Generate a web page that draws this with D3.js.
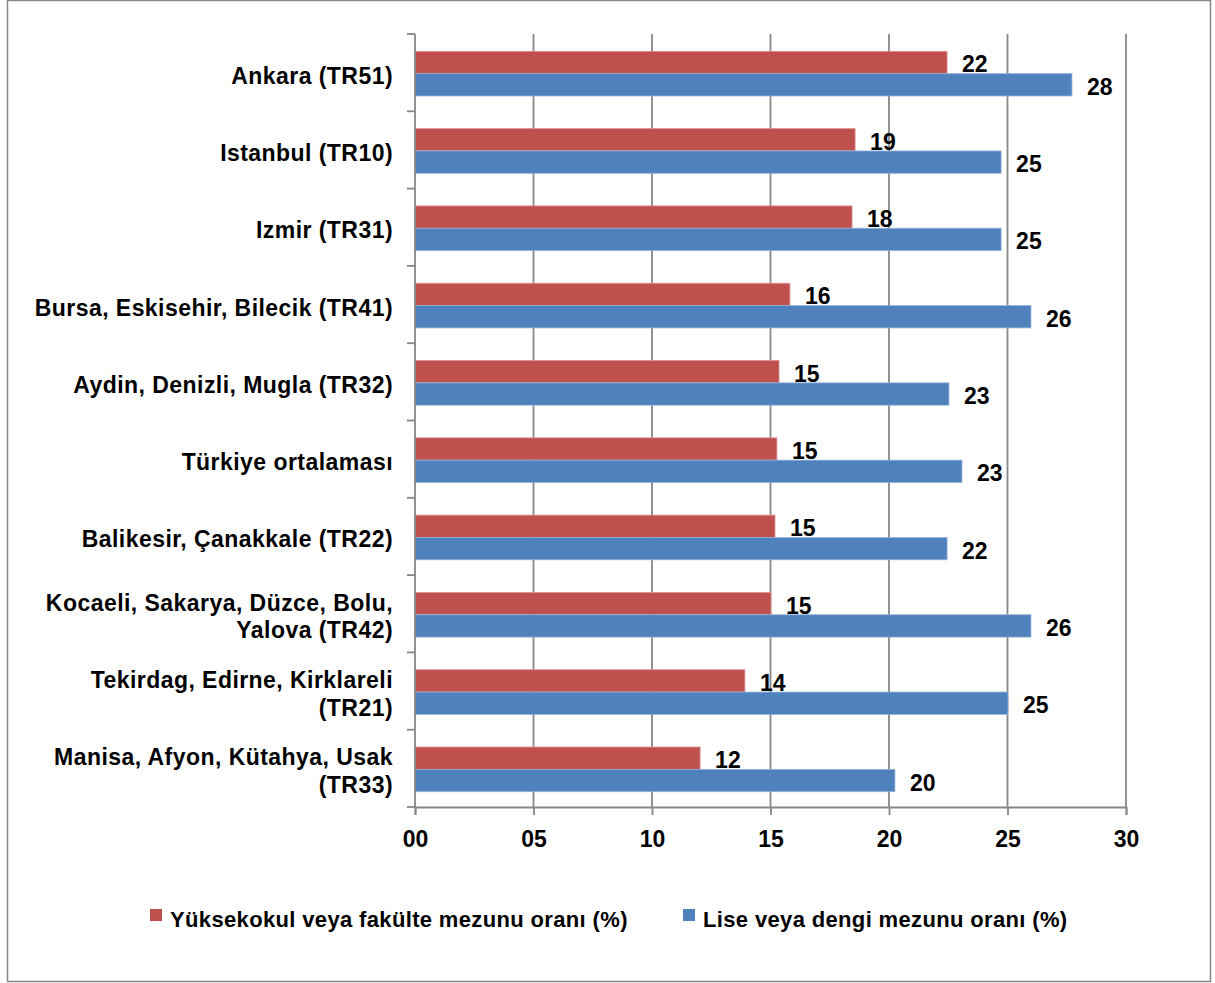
<!DOCTYPE html>
<html>
<head>
<meta charset="utf-8">
<script src="https://cdn.jsdelivr.net/npm/d3@7/dist/d3.min.js"></script>
<style>
  html, body { margin: 0; padding: 0; background: #fff; }
  svg { display: block; }
  text { font-family: "Liberation Sans", Arial, sans-serif; font-weight: bold; fill: #000; }
</style>
</head>
<body>
<svg id="chart" width="1215" height="983"></svg>
<script>
// Regions, top to bottom (each entry is a list of label lines)
const categories = [
  ["Ankara (TR51)"],
  ["Istanbul (TR10)"],
  ["Izmir (TR31)"],
  ["Bursa, Eskisehir, Bilecik (TR41)"],
  ["Aydin, Denizli, Mugla (TR32)"],
  ["Türkiye ortalaması"],
  ["Balikesir, Çanakkale (TR22)"],
  ["Kocaeli, Sakarya, Düzce, Bolu,", "Yalova (TR42)"],
  ["Tekirdag, Edirne, Kirklareli", "(TR21)"],
  ["Manisa, Afyon, Kütahya, Usak", "(TR33)"]
];

// Higher education graduate rate (%)
const higherEdRate = [22.45, 18.57, 18.44, 15.82, 15.36, 15.27, 15.19, 15.02, 13.92, 12.03];
// High school or equivalent graduate rate (%)
const highSchoolRate = [27.72, 24.73, 24.73, 25.99, 22.53, 23.08, 22.45, 25.99, 25.02, 20.25];

const seriesNames = [
  "Yüksekokul veya fakülte mezunu oranı (%)",
  "Lise veya dengi mezunu oranı (%)"
];
const seriesColors = ["#C0504D", "#4F81BD"];
const seriesEdge = ["#D99694", "#95B3D7"];
const xTicks = [0, 5, 10, 15, 20, 25, 30];

const svg = d3.select("#chart");
const gridColor = "#878787";

// Outer chart frame
svg.append("rect")
  .attr("x", 7.5).attr("y", 0.5)
  .attr("width", 1203).attr("height", 981)
  .attr("fill", "#fff")
  .attr("stroke", gridColor).attr("stroke-width", 1.5);

const plot = { left: 415, right: 1126, top: 34, bottom: 807 };

const x = d3.scaleLinear().domain([0, 30]).range([plot.left, plot.right]);
const y = d3.scaleBand()
  .domain(d3.range(categories.length))
  .range([plot.top, plot.bottom])
  .padding(0);

const groupFrac = 0.578;
const sub = d3.scaleBand()
  .domain([0, 1])
  .range([0, y.bandwidth() * groupFrac]);
const groupOffset = (y.bandwidth() - y.bandwidth() * groupFrac) / 2 + 1;

// Vertical gridlines
svg.append("g")
  .selectAll("line")
  .data(xTicks.slice(1))
  .join("line")
  .attr("x1", d => x(d)).attr("x2", d => x(d))
  .attr("y1", plot.top).attr("y2", plot.bottom)
  .attr("stroke", gridColor).attr("stroke-width", 1.8);

// Bars
const rows = categories.map((c, i) => ({ i, values: [higherEdRate[i], highSchoolRate[i]] }));
const rowG = svg.append("g")
  .selectAll("g")
  .data(rows)
  .join("g")
  .attr("transform", d => `translate(0,${y(d.i) + groupOffset})`);

rowG.selectAll("rect")
  .data(d => d.values.map((v, s) => ({ v, s })))
  .join("rect")
  .attr("x", x(0))
  .attr("y", d => sub(d.s))
  .attr("width", d => x(d.v) - x(0))
  .attr("height", sub.bandwidth())
  .attr("fill", d => seriesColors[d.s])
  .attr("stroke", d => seriesEdge[d.s])
  .attr("stroke-width", 0.8);

// Value labels
rowG.selectAll("text")
  .data(d => d.values.map((v, s) => ({ v, s })))
  .join("text")
  .attr("x", d => x(d.v) + 15)
  .attr("y", d => sub(d.s) + sub.bandwidth() / 2 + 10)
  .attr("font-size", 23)
  .text(d => d3.format(".0f")(d.v));

// Y axis line with category boundary ticks
const yAxis = svg.append("g");
yAxis.append("line")
  .attr("x1", plot.left).attr("x2", plot.left)
  .attr("y1", plot.top).attr("y2", plot.bottom)
  .attr("stroke", gridColor).attr("stroke-width", 1.8);
yAxis.selectAll("line.tick")
  .data(d3.range(categories.length + 1))
  .join("line")
  .attr("class", "tick")
  .attr("x1", plot.left - 8).attr("x2", plot.left)
  .attr("y1", d => plot.top + d * y.step())
  .attr("y2", d => plot.top + d * y.step())
  .attr("stroke", gridColor).attr("stroke-width", 1.8);

// Category labels
const catG = svg.append("g")
  .selectAll("text")
  .data(categories.map((lines, i) => ({ lines, i })))
  .join("text")
  .attr("text-anchor", "end")
  .attr("font-size", 23)
  .attr("letter-spacing", 0.45);
catG.each(function(d) {
  const cy = y(d.i) + y.bandwidth() / 2;
  const base = d.lines.length === 1 ? cy + 11 : cy - 3;
  d3.select(this).selectAll("tspan")
    .data(d.lines)
    .join("tspan")
    .attr("x", plot.left - 22)
    .attr("y", (l, k) => base + k * 27.5)
    .text(l => l);
});

// X axis
const xAxis = svg.append("g")
  .attr("transform", `translate(0,${plot.bottom})`)
  .call(d3.axisBottom(x).tickValues(xTicks).tickSize(8).tickPadding(16)
    .tickFormat(d3.format("02d")));
xAxis.select(".domain").attr("stroke", gridColor).attr("stroke-width", 1.8);
xAxis.selectAll(".tick line").attr("stroke", gridColor).attr("stroke-width", 1.8);
xAxis.selectAll(".tick text")
  .attr("font-size", 23)
  .attr("font-family", "Liberation Sans, Arial, sans-serif")
  .attr("fill", "#000");

// Legend
const legendItems = [
  { name: seriesNames[0], color: seriesColors[0], x: 150 },
  { name: seriesNames[1], color: seriesColors[1], x: 683 }
];
const lg = svg.append("g")
  .selectAll("g")
  .data(legendItems)
  .join("g")
  .attr("transform", d => `translate(${d.x},909)`);
lg.append("rect")
  .attr("width", 12).attr("height", 12)
  .attr("fill", d => d.color);
lg.append("text")
  .attr("x", 20).attr("y", 18)
  .attr("font-size", 22)
  .attr("letter-spacing", 0.35)
  .text(d => d.name);
</script>
</body>
</html>
